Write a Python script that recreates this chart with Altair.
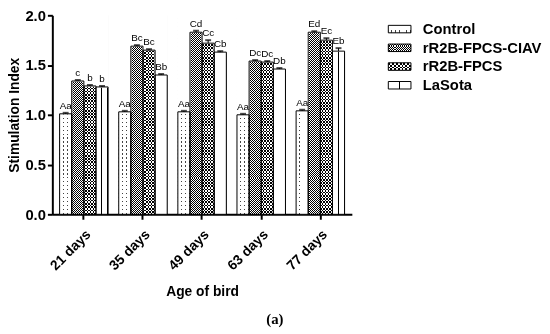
import altair as alt
import pandas as pd

ages = ["21 days", "35 days", "49 days", "63 days", "77 days"]
series = ["Control", "rR2B-FPCS-CIAV", "rR2B-FPCS", "LaSota"]

control = [1.01, 1.03, 1.03, 1.00, 1.04]
ciav = [1.34, 1.69, 1.83, 1.54, 1.83]
fpcs = [1.29, 1.65, 1.72, 1.53, 1.75]
lasota = [1.28, 1.40, 1.63, 1.46, 1.64]

err_control = [0.01, 0.01, 0.01, 0.01, 0.01]
err_ciav = [0.01, 0.01, 0.015, 0.01, 0.01]
err_fpcs = [0.01, 0.01, 0.03, 0.01, 0.02]
err_lasota = [0.01, 0.01, 0.01, 0.01, 0.03]

lab_control = ["Aa", "Aa", "Aa", "Aa", "Aa"]
lab_ciav = ["c", "Bc", "Cd", "Dc", "Ed"]
lab_fpcs = ["b", "Bc", "Cc", "Dc", "Ec"]
lab_lasota = ["b", "Bb", "Cb", "Db", "Eb"]

vals = [control, ciav, fpcs, lasota]
errs = [err_control, err_ciav, err_fpcs, err_lasota]
labs = [lab_control, lab_ciav, lab_fpcs, lab_lasota]

rows = []
for s, v, e, l in zip(series, vals, errs, labs):
    for a, vv, ee, ll in zip(ages, v, e, l):
        rows.append({"age": a, "series": s, "value": vv, "hi": vv + ee,
                     "label": ll, "top": 2.0, "zero": 0.0})
df = pd.DataFrame(rows)

FONT = "Liberation Sans"


def stripes(n, frac, dark, light, vertical_lines):
    stops = []
    for i in range(n):
        a = i / n
        m = a + (1 - frac) / n
        b = (i + 1) / n
        stops += [alt.GradientStop(color=light, offset=a),
                  alt.GradientStop(color=light, offset=m),
                  alt.GradientStop(color=dark, offset=m),
                  alt.GradientStop(color=dark, offset=b)]
    if vertical_lines:
        return alt.LinearGradient(gradient="linear", stops=stops, x1=0, y1=0, x2=1, y2=0)
    return alt.LinearGradient(gradient="linear", stops=stops, x1=0, y1=0, x2=0, y2=1)


# (base gradient, overlay gradient, blend) for the bars
main_patterns = {
    "Control": (stripes(50, 0.3, "#444444", "white", False),
                stripes(3, 0.16, "#444444", "white", True), "lighten"),
    "rR2B-FPCS-CIAV": (stripes(100, 0.5, "black", "white", False),
                       stripes(6, 0.5, "black", "white", True), "difference"),
    "rR2B-FPCS": (stripes(62, 0.5, "black", "white", False),
                  stripes(4, 0.5, "black", "white", True), "difference"),
    "LaSota": (stripes(2, 0.1, "black", "white", True), None, None),
}
legend_patterns = {
    "Control": (stripes(1, 0.4, "#444444", "white", False),
                stripes(6, 0.2, "#444444", "white", True), "lighten"),
    "rR2B-FPCS-CIAV": (stripes(3, 0.5, "black", "white", False),
                       stripes(11, 0.5, "black", "white", True), "difference"),
    "rR2B-FPCS": (stripes(2, 0.5, "black", "white", False),
                  stripes(6, 0.5, "black", "white", True), "difference"),
    "LaSota": (stripes(4, 0.08, "black", "white", True), None, None),
}

yscale = alt.Scale(domain=[0, 2], nice=False)
yaxis = alt.Axis(title="Stimulation Index", values=[0, 0.5, 1.0, 1.5, 2.0],
                 format=".1f", grid=False, labelFontSize=15, titleFontSize=14,
                 titlePadding=3)


def Y(f):
    return alt.Y(f, type="quantitative", scale=yscale, axis=yaxis)


xenc = alt.X("age:N", sort=ages,
             scale=alt.Scale(paddingInner=0.18, paddingOuter=0.123),
             axis=alt.Axis(title="Age of bird", labelAngle=-45, labelFontSize=14,
                           titleFontSize=14, titlePadding=12, labelPadding=8))
xoff = alt.XOffset("series:N", sort=series,
                   scale=alt.Scale(paddingInner=0, paddingOuter=0))

base = alt.Chart(df).encode(x=xenc, xOffset=xoff)

layers = []
for s in series:
    g1, g2, bl = main_patterns[s]
    sub = base.transform_filter(alt.datum.series == s)
    layers.append(sub.mark_bar(fill=g1, strokeWidth=0).encode(y=Y("top"), y2="zero"))
    if g2 is not None:
        layers.append(sub.mark_bar(fill=g2, strokeWidth=0, blend=bl)
                      .encode(y=Y("top"), y2="zero"))

cover = base.mark_bar(fill="white", stroke="white", strokeWidth=1.5).encode(
    y=Y("value"), y2="top")
outline = base.mark_bar(fill="white", fillOpacity=0, stroke="black",
                        strokeWidth=1).encode(y=Y("value"), y2="zero")
stem = base.mark_rule(color="black", strokeWidth=1).encode(y=Y("value"), y2="hi")
cap = base.mark_tick(color="black", thickness=2, size=6).encode(y=Y("hi"))
text = base.mark_text(baseline="bottom", dy=-2, fontSize=10, font=FONT,
                      color="black").encode(y=Y("hi"), text="label:N")

main = alt.layer(*layers, cover, outline, stem, cap, text).properties(width=304, height=202)

# legend panel
ldf = pd.DataFrame({"series": series})
lbase = alt.Chart(ldf).encode(
    y=alt.Y("series:N", sort=series, axis=None,
            scale=alt.Scale(range=[4.5, 80.5], paddingInner=0.6, paddingOuter=0.3)))
llayers = []
for s in series:
    g1, g2, bl = legend_patterns[s]
    sub = lbase.transform_filter(alt.datum.series == s)
    llayers.append(sub.mark_rect(fill=g1, strokeWidth=0).encode(
        x=alt.value(0), x2=alt.value(23)))
    if g2 is not None:
        llayers.append(sub.mark_rect(fill=g2, strokeWidth=0, blend=bl).encode(
            x=alt.value(0), x2=alt.value(23)))
loutline = lbase.mark_rect(fill="white", fillOpacity=0, stroke="black",
                           strokeWidth=1).encode(x=alt.value(0), x2=alt.value(23))
ltext = lbase.mark_text(align="left", baseline="middle", font=FONT, fontSize=15,
                        fontWeight="bold", color="black").encode(
    x=alt.value(35), text="series:N")
legend = alt.layer(*llayers, loutline, ltext).properties(width=140, height=202)

chart = alt.hconcat(main, legend, spacing=36).properties(
    title=alt.TitleParams("(a)", orient="bottom", anchor="middle",
                          font="Liberation Serif", fontSize=15, fontWeight="bold",
                          color="black", offset=14),
    padding={"left": 0, "top": -2, "right": 0, "bottom": 0},
).configure_view(stroke=None).configure_axis(
    domainColor="black", domainWidth=2, tickColor="black", tickWidth=2, tickSize=5,
    labelFont=FONT, titleFont=FONT, labelFontWeight="bold", titleFontWeight="bold",
    labelColor="black", titleColor="black")

chart.save("out.html", embed_options={"renderer": "svg", "actions": False})
